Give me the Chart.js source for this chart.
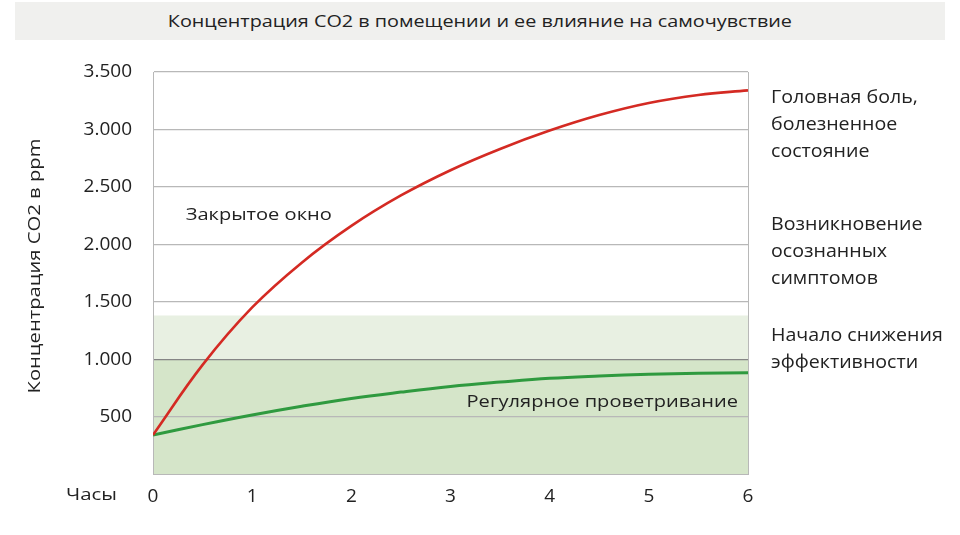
<!DOCTYPE html>
<html lang="ru">
<head>
  <meta charset="UTF-8" />
  <title>Концентрация CO2</title>
  <script src="https://cdn.jsdelivr.net/npm/chart.js"></script>
  <style>
    html, body { margin: 0; padding: 0; background: #fff; }
    #wrap { position: relative; width: 960px; height: 535px; font-family: "Open Sans", sans-serif; }
    #title { position: absolute; left: 15px; top: 2px; width: 930px; height: 38px; line-height: 38px;
             background: #f0f0ee; text-align: center; font-size: 17px; color: #222; }
    #title span { display: inline-block; transform: scaleX(1.165); }
    canvas { position: absolute; left: 0; top: 0; }
  </style>
</head>
<body>
  <div id="wrap">
    <canvas id="chart" width="960" height="535"></canvas>
    <div id="title"><span>Концентрация CO2 в помещении и ее влияние на самочувствие</span></div>
  </div>

  <script>
    // Данные
    const hours = [0, 0.5, 1, 1.5, 2, 2.5, 3, 3.5, 4, 4.5, 5, 5.5, 6];
    const closedWindow = [340, 950, 1450, 1840, 2160, 2425, 2645, 2830, 2990, 3125, 3230, 3300, 3340];
    const ventilation = [340, 430, 514, 590, 658, 713, 762, 800, 833, 853, 868, 877, 882];
    const yTicks = [500, 1000, 1500, 2000, 2500, 3000, 3500];
    const xTicks = [0, 1, 2, 3, 4, 5, 6];
    const comfortZoneTop = 1380;
    const comfortZoneInner = 1000;
    const yTitle = 'Концентрация CO2 в ppm';
    const xTitle = 'Часы';
    const closedLabel = 'Закрытое окно';
    const ventLabel = 'Регулярное проветривание';
    const levelNotes = [
      ['Головная боль,', 'болезненное', 'состояние'],
      ['Возникновение', 'осознанных', 'симптомов'],
      ['Начало снижения', 'эффективности']
    ];

    const FONT = '"Open Sans", sans-serif';
    const toPts = arr => arr.map((v, i) => ({ x: hours[i], y: v }));
    const fmt = v => String(v).replace(/\B(?=(\d{3})+(?!\d))/g, '.');

    // текст, слегка растянутый по горизонтали (в оригинале шрифт шире)
    function stretchText(ctx, t, x, y, align, sx, rot) {
      ctx.save();
      ctx.translate(x, y);
      if (rot) ctx.rotate(rot);
      ctx.scale(sx, 1);
      ctx.textAlign = align;
      ctx.fillText(t, 0, 0);
      ctx.restore();
    }

    // Зелёная зона под сеткой
    const bandPlugin = {
      id: 'band',
      beforeDraw(chart) {
        const { ctx, chartArea: a, scales: { y } } = chart;
        ctx.save();
        ctx.fillStyle = '#e8f0e2';
        ctx.fillRect(a.left, y.getPixelForValue(comfortZoneTop), a.right - a.left, y.getPixelForValue(0) - y.getPixelForValue(comfortZoneTop));
        ctx.fillStyle = '#d5e5c9';
        ctx.fillRect(a.left, y.getPixelForValue(comfortZoneInner), a.right - a.left, y.getPixelForValue(0) - y.getPixelForValue(comfortZoneInner));
        ctx.restore();
      }
    };

    // Подписи
    const labelsPlugin = {
      id: 'labels',
      afterDraw(chart) {
        const { ctx, chartArea: a, scales: { x, y } } = chart;
        ctx.save();
        ctx.fillStyle = '#222';
        ctx.textBaseline = 'middle';
        ctx.font = '17px ' + FONT;
        stretchText(ctx, closedLabel, x.getPixelForValue(0.33), y.getPixelForValue(2250), 'left', 1.18);
        stretchText(ctx, ventLabel, x.getPixelForValue(5.9), y.getPixelForValue(625), 'right', 1.18);
        stretchText(ctx, xTitle, 117, 495, 'right', 1.2);
        stretchText(ctx, yTitle, 35, (a.top + a.bottom) / 2 - 7, 'center', 1.19, -Math.PI / 2);
        ctx.font = '18px ' + FONT;
        const starts = [98, 225, 336];
        levelNotes.forEach((lines, k) => {
          lines.forEach((t, j) => stretchText(ctx, t, 771, starts[k] + j * 27, 'left', 1.09));
        });
        ctx.restore();
      }
    };

    new Chart(document.getElementById('chart'), {
      type: 'line',
      data: {
        datasets: [
          { data: toPts(closedWindow), borderColor: '#d42a23', borderWidth: 2.6, pointRadius: 0, tension: 0.4, fill: false },
          { data: toPts(ventilation), borderColor: '#2f9a3f', borderWidth: 3, pointRadius: 0, tension: 0.4, fill: false }
        ]
      },
      options: {
        responsive: false,
        animation: false,
        layout: { padding: { top: 72, right: 212, left: 0, bottom: 0 } },
        plugins: { legend: { display: false }, tooltip: { enabled: false }, title: { display: false } },
        scales: {
          x: {
            type: 'linear', min: 0, max: 6,
            afterFit: s => { s.height = 61; },
            afterBuildTicks: s => { s.ticks = xTicks.map(v => ({ value: v })); },
            grid: { drawTicks: false, color: c => c.tick && c.tick.value === 6 ? '#b8b8b8' : 'rgba(0,0,0,0)' },
            border: { display: true, color: '#b8b8b8' },
            ticks: { padding: 11, color: '#222', font: { family: FONT, size: 19 } }
          },
          y: {
            min: 0, max: 3500,
            afterFit: s => { s.width = 153; },
            afterBuildTicks: s => { s.ticks = yTicks.map(v => ({ value: v })); },
            grid: { drawTicks: false, color: c => c.tick && c.tick.value === 1000 ? '#858585' : '#b8b8b8', lineWidth: 1.2 },
            border: { display: true, color: '#b8b8b8' },
            ticks: { padding: 21, color: '#222', font: { family: FONT, size: 19 }, callback: v => fmt(v) }
          }
        }
      },
      plugins: [bandPlugin, labelsPlugin]
    });
  </script>
</body>
</html>
